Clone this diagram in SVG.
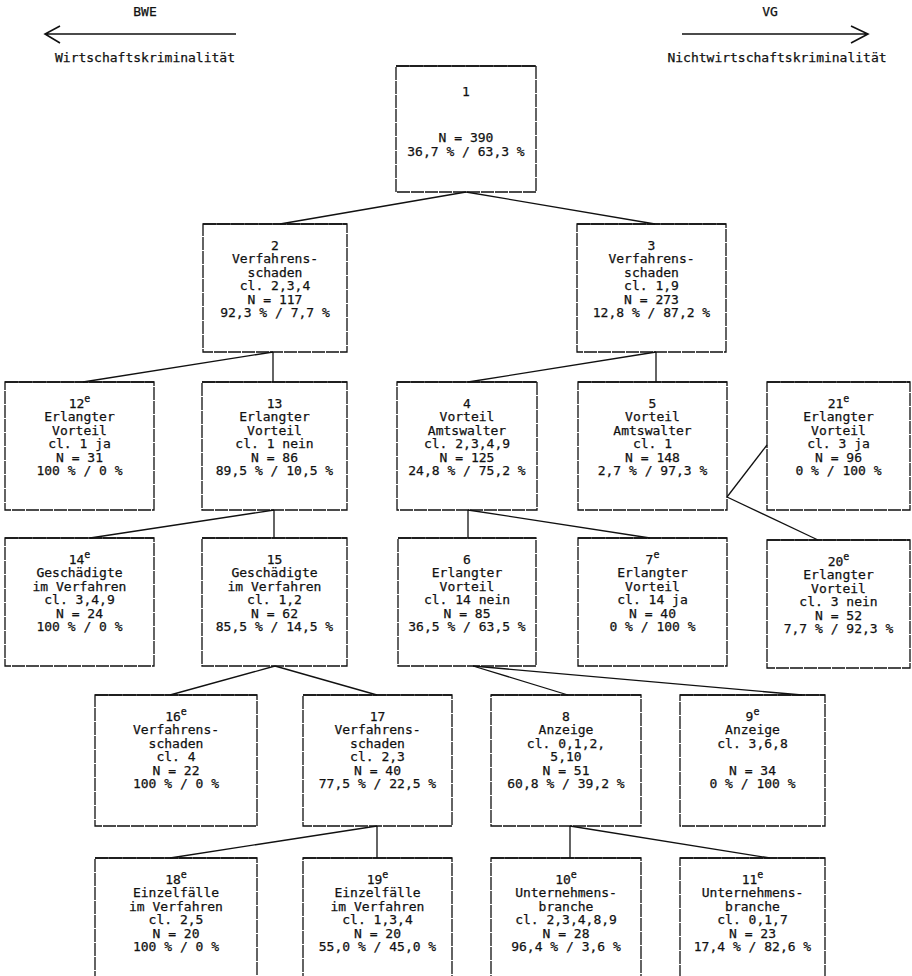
<svg xmlns="http://www.w3.org/2000/svg" width="912" height="976" viewBox="0 0 912 976">
<style>
text{font-family:"DejaVu Sans Mono","Liberation Mono",monospace;font-size:13px;fill:#111;stroke:#111;stroke-width:0.25;text-anchor:middle}
.b{fill:none;stroke:#111;stroke-width:1.3;stroke-dasharray:13 1}
.t{fill:none;stroke:#111;stroke-width:1.6}
.c line,.c path{stroke:#111;stroke-width:1.3;fill:none}
.s{font-size:10px}
</style>
<g id="legend">
<text x="145" y="16">BWE</text>
<path class="t" d="M45 34H236M60 26L45 34L60 43"/>
<text x="145" y="62">Wirtschaftskriminalität</text>
<text x="770" y="16">VG</text>
<path class="t" d="M682 34H868M851 26L868 34L851 43"/>
<text x="777" y="62">Nichtwirtschaftskriminalität</text>
</g>
<g class="c" id="connectors">
<line x1="466" y1="192" x2="280" y2="224"/>
<line x1="466" y1="192" x2="655" y2="224"/>
<line x1="273" y1="352" x2="83" y2="382"/>
<line x1="273" y1="352" x2="273" y2="382"/>
<line x1="656" y1="352" x2="468" y2="382"/>
<line x1="656" y1="352" x2="656" y2="382"/>
<line x1="727" y1="497" x2="767" y2="445"/>
<line x1="727" y1="497" x2="818" y2="540"/>
<line x1="274" y1="510" x2="90" y2="538"/>
<line x1="274" y1="510" x2="274" y2="538"/>
<line x1="468" y1="510" x2="468" y2="538"/>
<line x1="468" y1="510" x2="650" y2="538"/>
<line x1="275" y1="666" x2="170" y2="695"/>
<line x1="275" y1="666" x2="377" y2="695"/>
<line x1="473" y1="666" x2="568" y2="695"/>
<line x1="473" y1="666" x2="802" y2="695"/>
<line x1="377" y1="826" x2="170" y2="858"/>
<line x1="377" y1="826" x2="377" y2="858"/>
<line x1="570" y1="826" x2="570" y2="858"/>
<line x1="570" y1="826" x2="770" y2="858"/>
</g>
<g id="n1"><rect class="b" x="396" y="66" width="140" height="126"/><path class="t" d="M396 66H536"/>
<text x="466" y="96">1</text><text x="466" y="142">N = 390</text><text x="466" y="156">36,7 % / 63,3 %</text></g>
<g id="n2"><rect class="b" x="203" y="224" width="144" height="128"/><path class="t" d="M203 224H347"/>
<text x="275" y="249.5">2</text><text x="275" y="263">Verfahrens-</text><text x="275" y="276.5">schaden</text><text x="275" y="290">cl. 2,3,4</text><text x="275" y="303.5">N = 117</text><text x="275" y="317">92,3 % / 7,7 %</text></g>
<g id="n3"><rect class="b" x="577" y="224" width="149" height="128"/><path class="t" d="M577 224H726"/>
<text x="651.5" y="249.5">3</text><text x="651.5" y="263">Verfahrens-</text><text x="651.5" y="276.5">schaden</text><text x="651.5" y="290">cl. 1,9</text><text x="651.5" y="303.5">N = 273</text><text x="651.5" y="317">12,8 % / 87,2 %</text></g>
<g id="n12"><rect class="b" x="5" y="382" width="149" height="128"/><path class="t" d="M5 382H154"/>
<text x="79.5" y="407.5">12<tspan class="s" dy="-6">e</tspan></text><text x="79.5" y="421">Erlangter</text><text x="79.5" y="434.5">Vorteil</text><text x="79.5" y="448">cl. 1 ja</text><text x="79.5" y="461.5">N = 31</text><text x="79.5" y="475">100 % / 0 %</text></g>
<g id="n13"><rect class="b" x="202" y="382" width="145" height="128"/><path class="t" d="M202 382H347"/>
<text x="274.5" y="407.5">13</text><text x="274.5" y="421">Erlangter</text><text x="274.5" y="434.5">Vorteil</text><text x="274.5" y="448">cl. 1 nein</text><text x="274.5" y="461.5">N = 86</text><text x="274.5" y="475">89,5 % / 10,5 %</text></g>
<g id="n4"><rect class="b" x="397" y="382" width="140" height="128"/><path class="t" d="M397 382H537"/>
<text x="467" y="407.5">4</text><text x="467" y="421">Vorteil</text><text x="467" y="434.5">Amtswalter</text><text x="467" y="448">cl. 2,3,4,9</text><text x="467" y="461.5">N = 125</text><text x="467" y="475">24,8 % / 75,2 %</text></g>
<g id="n5"><rect class="b" x="578" y="382" width="149" height="128"/><path class="t" d="M578 382H727"/>
<text x="652.5" y="407.5">5</text><text x="652.5" y="421">Vorteil</text><text x="652.5" y="434.5">Amtswalter</text><text x="652.5" y="448">cl. 1</text><text x="652.5" y="461.5">N = 148</text><text x="652.5" y="475">2,7 % / 97,3 %</text></g>
<g id="n21"><rect class="b" x="767" y="382" width="143" height="128"/><path class="t" d="M767 382H910"/>
<text x="838.5" y="407.5">21<tspan class="s" dy="-6">e</tspan></text><text x="838.5" y="421">Erlangter</text><text x="838.5" y="434.5">Vorteil</text><text x="838.5" y="448">cl. 3 ja</text><text x="838.5" y="461.5">N = 96</text><text x="838.5" y="475">0 % / 100 %</text></g>
<g id="n14"><rect class="b" x="5" y="538" width="149" height="128"/><path class="t" d="M5 538H154"/>
<text x="79.5" y="563.5">14<tspan class="s" dy="-6">e</tspan></text><text x="79.5" y="577">Geschädigte</text><text x="79.5" y="590.5">im Verfahren</text><text x="79.5" y="604">cl. 3,4,9</text><text x="79.5" y="617.5">N = 24</text><text x="79.5" y="631">100 % / 0 %</text></g>
<g id="n15"><rect class="b" x="202" y="538" width="145" height="128"/><path class="t" d="M202 538H347"/>
<text x="274.5" y="563.5">15</text><text x="274.5" y="577">Geschädigte</text><text x="274.5" y="590.5">im Verfahren</text><text x="274.5" y="604">cl. 1,2</text><text x="274.5" y="617.5">N = 62</text><text x="274.5" y="631">85,5 % / 14,5 %</text></g>
<g id="n6"><rect class="b" x="398" y="538" width="138" height="128"/><path class="t" d="M398 538H536"/>
<text x="467" y="563.5">6</text><text x="467" y="577">Erlangter</text><text x="467" y="590.5">Vorteil</text><text x="467" y="604">cl. 14 nein</text><text x="467" y="617.5">N = 85</text><text x="467" y="631">36,5 % / 63,5 %</text></g>
<g id="n7"><rect class="b" x="578" y="538" width="149" height="128"/><path class="t" d="M578 538H727"/>
<text x="652.5" y="563.5">7<tspan class="s" dy="-6">e</tspan></text><text x="652.5" y="577">Erlangter</text><text x="652.5" y="590.5">Vorteil</text><text x="652.5" y="604">cl. 14 ja</text><text x="652.5" y="617.5">N = 40</text><text x="652.5" y="631">0 % / 100 %</text></g>
<g id="n20"><rect class="b" x="767" y="540" width="143" height="128"/><path class="t" d="M767 540H910"/>
<text x="838.5" y="565.5">20<tspan class="s" dy="-6">e</tspan></text><text x="838.5" y="579">Erlangter</text><text x="838.5" y="592.5">Vorteil</text><text x="838.5" y="606">cl. 3 nein</text><text x="838.5" y="619.5">N = 52</text><text x="838.5" y="633">7,7 % / 92,3 %</text></g>
<g id="n16"><rect class="b" x="95" y="695" width="162" height="131"/><path class="t" d="M95 695H257"/>
<text x="176" y="720.5">16<tspan class="s" dy="-6">e</tspan></text><text x="176" y="734">Verfahrens-</text><text x="176" y="747.5">schaden</text><text x="176" y="761">cl. 4</text><text x="176" y="774.5">N = 22</text><text x="176" y="788">100 % / 0 %</text></g>
<g id="n17"><rect class="b" x="303" y="695" width="149" height="131"/><path class="t" d="M303 695H452"/>
<text x="377.5" y="720.5">17</text><text x="377.5" y="734">Verfahrens-</text><text x="377.5" y="747.5">schaden</text><text x="377.5" y="761">cl. 2,3</text><text x="377.5" y="774.5">N = 40</text><text x="377.5" y="788">77,5 % / 22,5 %</text></g>
<g id="n8"><rect class="b" x="491" y="695" width="150" height="131"/><path class="t" d="M491 695H641"/>
<text x="566" y="720.5">8</text><text x="566" y="734">Anzeige</text><text x="566" y="747.5">cl. 0,1,2,</text><text x="566" y="761">5,10</text><text x="566" y="774.5">N = 51</text><text x="566" y="788">60,8 % / 39,2 %</text></g>
<g id="n9"><rect class="b" x="680" y="695" width="145" height="131"/><path class="t" d="M680 695H825"/>
<text x="752.5" y="720.5">9<tspan class="s" dy="-6">e</tspan></text><text x="752.5" y="734">Anzeige</text><text x="752.5" y="747.5">cl. 3,6,8</text><text x="752.5" y="774.5">N = 34</text><text x="752.5" y="788">0 % / 100 %</text></g>
<g id="n18"><rect class="b" x="95" y="858" width="162" height="132"/><path class="t" d="M95 858H257"/>
<text x="176" y="883.5">18<tspan class="s" dy="-6">e</tspan></text><text x="176" y="897">Einzelfälle</text><text x="176" y="910.5">im Verfahren</text><text x="176" y="924">cl. 2,5</text><text x="176" y="937.5">N = 20</text><text x="176" y="951">100 % / 0 %</text></g>
<g id="n19"><rect class="b" x="303" y="858" width="149" height="132"/><path class="t" d="M303 858H452"/>
<text x="377.5" y="883.5">19<tspan class="s" dy="-6">e</tspan></text><text x="377.5" y="897">Einzelfälle</text><text x="377.5" y="910.5">im Verfahren</text><text x="377.5" y="924">cl. 1,3,4</text><text x="377.5" y="937.5">N = 20</text><text x="377.5" y="951">55,0 % / 45,0 %</text></g>
<g id="n10"><rect class="b" x="491" y="858" width="150" height="132"/><path class="t" d="M491 858H641"/>
<text x="566" y="883.5">10<tspan class="s" dy="-6">e</tspan></text><text x="566" y="897">Unternehmens-</text><text x="566" y="910.5">branche</text><text x="566" y="924">cl. 2,3,4,8,9</text><text x="566" y="937.5">N = 28</text><text x="566" y="951">96,4 % / 3,6 %</text></g>
<g id="n11"><rect class="b" x="680" y="858" width="145" height="132"/><path class="t" d="M680 858H825"/>
<text x="752.5" y="883.5">11<tspan class="s" dy="-6">e</tspan></text><text x="752.5" y="897">Unternehmens-</text><text x="752.5" y="910.5">branche</text><text x="752.5" y="924">cl. 0,1,7</text><text x="752.5" y="937.5">N = 23</text><text x="752.5" y="951">17,4 % / 82,6 %</text></g>
</svg>
